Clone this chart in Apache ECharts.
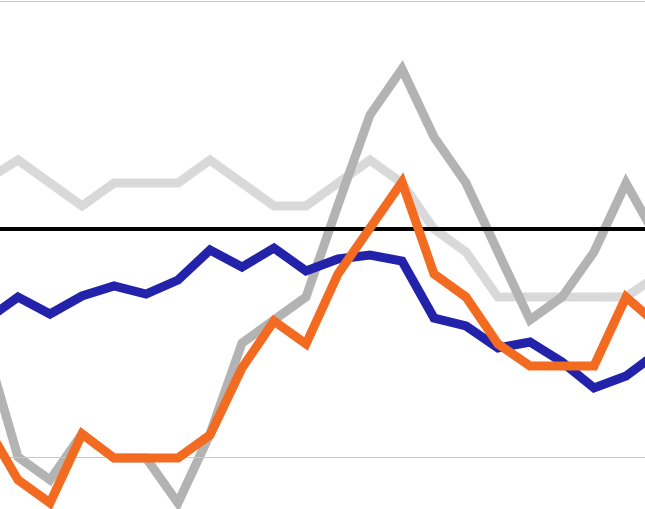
<!DOCTYPE html>
<html>
<head>
<meta charset="utf-8">
<script src="https://cdn.jsdelivr.net/npm/echarts@6/dist/echarts.min.js"></script>
<style>html,body{margin:0;padding:0;background:#fff}#c{width:645px;height:509px}</style>
</head>
<body>
<div id="c"></div>
<script>
// x positions (period index), first and last are partly off-canvas
var periods = [-1,0,1,2,3,4,5,6,7,8,9,10,11,12,13,14,15,16,17,18,19,20];
// values (0 = lower gridline)
var lightGray = [277,297,274,251,274,274,274,297,274,251,251,274,297,274,228,205,160,160,160,160,160,182];
var darkGray  = [110,0,-23,23,-1,-1,-46,23,114,137,160,252,342,388,320,274,205,137,160,205,274,217];
var blue      = [137,160,143,161,171,163,177,207,190,209,186,198,202,196,139,131,109,115,95,69,81,105];
var orange    = [32,-23,-46,23,-1,-1,-1,22,89,136,113,183,229,275,183,160,113,91,91,91,160,132];
var baseLine = 228;

function pairs(arr){
    var out=[];
    for(var i=0;i<arr.length;i++){ out.push([periods[i],arr[i]]); }
    return out;
}
function lineSeries(name,arr,color,z){
    return {name:name,type:'line',data:pairs(arr),symbol:'none',clip:true,z:z,
        lineStyle:{color:color,width:9,join:'miter'}};
}
var chart = echarts.init(document.getElementById('c'));
chart.setOption({
    animation:false,
    grid:{left:0,right:0,top:0,bottom:0},
    xAxis:{type:'value',min:-0.5625,max:19.59375,show:false},
    yAxis:{type:'value',min:-52,max:457,show:false},
    series:[
        {type:'line',data:[],silent:true,z:1,
            markLine:{symbol:'none',silent:true,label:{show:false},
                lineStyle:{color:'#c8c8c8',width:1,type:'solid'},
                data:[{yAxis:0},{yAxis:456}]}},
        lineSeries('light',lightGray,'#d9d9d9',2),
        {type:'line',data:[],z:3,
            markLine:{symbol:'none',silent:true,label:{show:false},
                lineStyle:{color:'#000',width:4,type:'solid'},
                data:[{yAxis:baseLine}]}},
        lineSeries('gray',darkGray,'#b3b3b3',4),
        lineSeries('blue',blue,'#2222aa',5),
        lineSeries('orange',orange,'#f26b21',6)
    ]
});
</script>
</body>
</html>
